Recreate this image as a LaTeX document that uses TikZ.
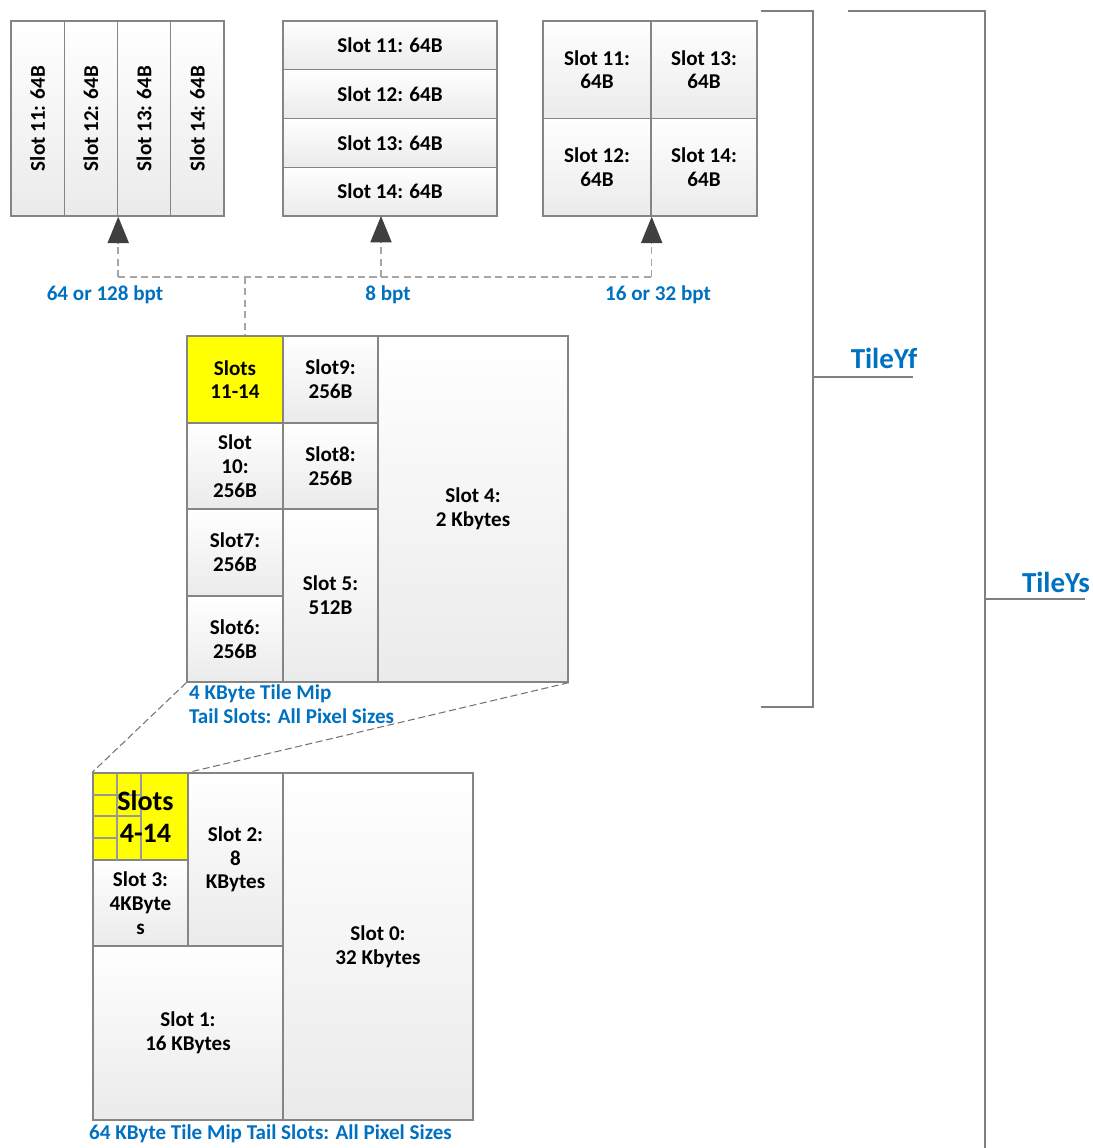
\documentclass[tikz,border=0pt]{standalone}
\usepackage{fontspec}
\setmainfont{Carlito}
\usetikzlibrary{positioning, arrows.meta}

\definecolor{tagblue}{RGB}{0,112,192}
\newcommand{\slotfont}{\fontsize{12}{13.5}\selectfont\bfseries}
\newcommand{\tagfont}{\fontsize{12}{13.6}\selectfont\bfseries}

\begin{document}
\begin{tikzpicture}[
    x=0.02cm, y=-0.02cm,
    cell/.style={draw=black!48, line width=0.8pt, top color=white, bottom color=black!8, inner sep=0pt, align=center, font=\slotfont},
    strip/.style={cell, rotate=90, minimum width=3.9cm, minimum height=1.065cm},
    hot/.style={cell, top color=yellow, bottom color=yellow},
    subgrid/.style={draw=black!40, line width=0.6pt},
    link/.style={draw=black!35, line width=0.9pt, dash pattern=on 4pt off 2.5pt},
    tip/.style={-{Triangle[width=12pt, length=15pt, color=black!75]}},
    zoomline/.style={draw=black!55, line width=0.6pt, dash pattern=on 4pt off 2pt},
    bracket/.style={draw=black!50, line width=1pt},
    tag/.style={text=tagblue, font=\tagfont, inner sep=1pt},
    tile/.style={text=tagblue, font=\fontsize{16.5}{18}\selectfont\bfseries, inner sep=0pt},
]
\useasboundingbox (0,0) rectangle (1092,1148);

% 64 or 128 bpt: four tall strips
\node[strip] (v11) at (37.6,118.5)  {Slot 11: 64B};
\node[strip] (v12) at (90.9,118.5)  {Slot 12: 64B};
\node[strip] (v13) at (144.1,118.5) {Slot 13: 64B};
\node[strip] (v14) at (197.4,118.5) {Slot 14: 64B};

% 8 bpt: four rows
\node[cell, minimum width=4.28cm, minimum height=0.975cm] (r11) at (390,45.4)  {Slot 11: 64B};
\node[cell, minimum width=4.28cm, minimum height=0.975cm] (r12) at (390,94.1)  {Slot 12: 64B};
\node[cell, minimum width=4.28cm, minimum height=0.975cm] (r13) at (390,142.9) {Slot 13: 64B};
\node[cell, minimum width=4.28cm, minimum height=0.975cm] (r14) at (390,191.6) {Slot 14: 64B};

% 16 or 32 bpt: two by two
\node[cell, minimum width=2.16cm, minimum height=1.95cm] (q11) at (597,69.75)  {Slot 11:\\64B};
\node[cell, minimum width=2.12cm, minimum height=1.95cm] (q13) at (704,69.75)  {Slot 13:\\64B};
\node[cell, minimum width=2.16cm, minimum height=1.95cm] (q12) at (597,167.25) {Slot 12:\\64B};
\node[cell, minimum width=2.12cm, minimum height=1.95cm] (q14) at (704,167.25) {Slot 14:\\64B};

% 4 KByte tile mip tail
\node[hot,  minimum width=1.92cm, minimum height=1.74cm] (s1114) at (235,379.5) {Slots\\11-14};
\node[cell, minimum width=1.9cm,  minimum height=1.74cm] (s9)  at (330.5,379.5) {Slot9:\\256B};
\node[cell, minimum width=1.92cm, minimum height=1.72cm] (s10) at (235,466)     {Slot\\10:\\256B};
\node[cell, minimum width=1.9cm,  minimum height=1.72cm] (s8)  at (330.5,466)   {Slot8:\\256B};
\node[cell, minimum width=1.92cm, minimum height=1.74cm] (s7)  at (235,552.5)   {Slot7:\\256B};
\node[cell, minimum width=1.92cm, minimum height=1.72cm] (s6)  at (235,639)     {Slot6:\\256B};
\node[cell, minimum width=1.9cm,  minimum height=3.46cm] (s5)  at (330.5,595.5) {Slot 5:\\512B};
\node[cell, minimum width=3.8cm,  minimum height=6.92cm] (s4)  at (473,509)     {Slot 4:\\2 Kbytes};

\node[tag, anchor=north west, align=left] (midcap) at (187,683) {4 KByte Tile Mip\\Tail Slots: All Pixel Sizes};

% 64 KByte tile mip tail
\node[hot,  minimum width=1.9cm, minimum height=1.74cm] (y414) at (140.5,816.5) {};
\node[cell, minimum width=1.9cm, minimum height=1.72cm] (b3) at (140.5,903)  {Slot 3:\\4KByte\\s};
\node[cell, minimum width=1.9cm, minimum height=3.46cm] (b2) at (235.5,859.5) {Slot 2:\\8\\KBytes};
\node[cell, minimum width=3.8cm, minimum height=6.94cm] (b0) at (378,946.5)  {Slot 0:\\32 Kbytes};
\node[cell, minimum width=3.8cm, minimum height=3.48cm] (b1) at (188,1033)   {Slot 1:\\16 KBytes};

% quarter-size copy of the 4 KByte layout
\draw[subgrid] (117,773) -- (117,860) (141,773) -- (141,860)
    (93,795) -- (141,795) (93,816) -- (141,816) (93,838) -- (117,838);
\node[font=\fontsize{16}{18}\selectfont\bfseries, align=center, inner sep=0pt] (y414txt)
    at ([xshift=0.1cm]y414.center) {Slots\\4-14};

\node[tag, anchor=north west] (botcap) at (87,1123) {64 KByte Tile Mip Tail Slots: All Pixel Sizes};

% zoom lines
\draw[zoomline] (s6.south west) -- (y414.north west);
\draw[zoomline] (s4.south east) -- (y414.north east);

% pixel size fan-out
\coordinate (split) at (245,277);
\coordinate (tgtB) at (381,216);
\draw[link] (split) -- (split |- s1114.north);
\draw[link] (split -| v12.south west) -- (split -| q12.south east);
\draw[link, tip] (split -| v12.south west) -- (v12.south west);
\draw[link, tip] (split -| tgtB) -- (tgtB);
\draw[link, tip] (split -| q12.south east) -- (q12.south east);

\node[tag] (bptA) at (105,295) {64 or 128 bpt};
\node[tag] (bptB) at (388,295) {8 bpt};
\node[tag] (bptC) at (658,295) {16 or 32 bpt};

% tile mode brackets
\draw[bracket] (761,11) -- (813,11) -- (813,707) -- (761,707);
\draw[bracket] (813,377) -- (913,377);
\node[tile, anchor=base] (yf) at (884,369) {TileYf};

\draw[bracket] (848,11) -- (985,11) -- (985,1148);
\draw[bracket] (985,599) -- (1085,599);
\node[tile, anchor=base] (ys) at (1056,592) {TileYs};

\end{tikzpicture}
\end{document}
